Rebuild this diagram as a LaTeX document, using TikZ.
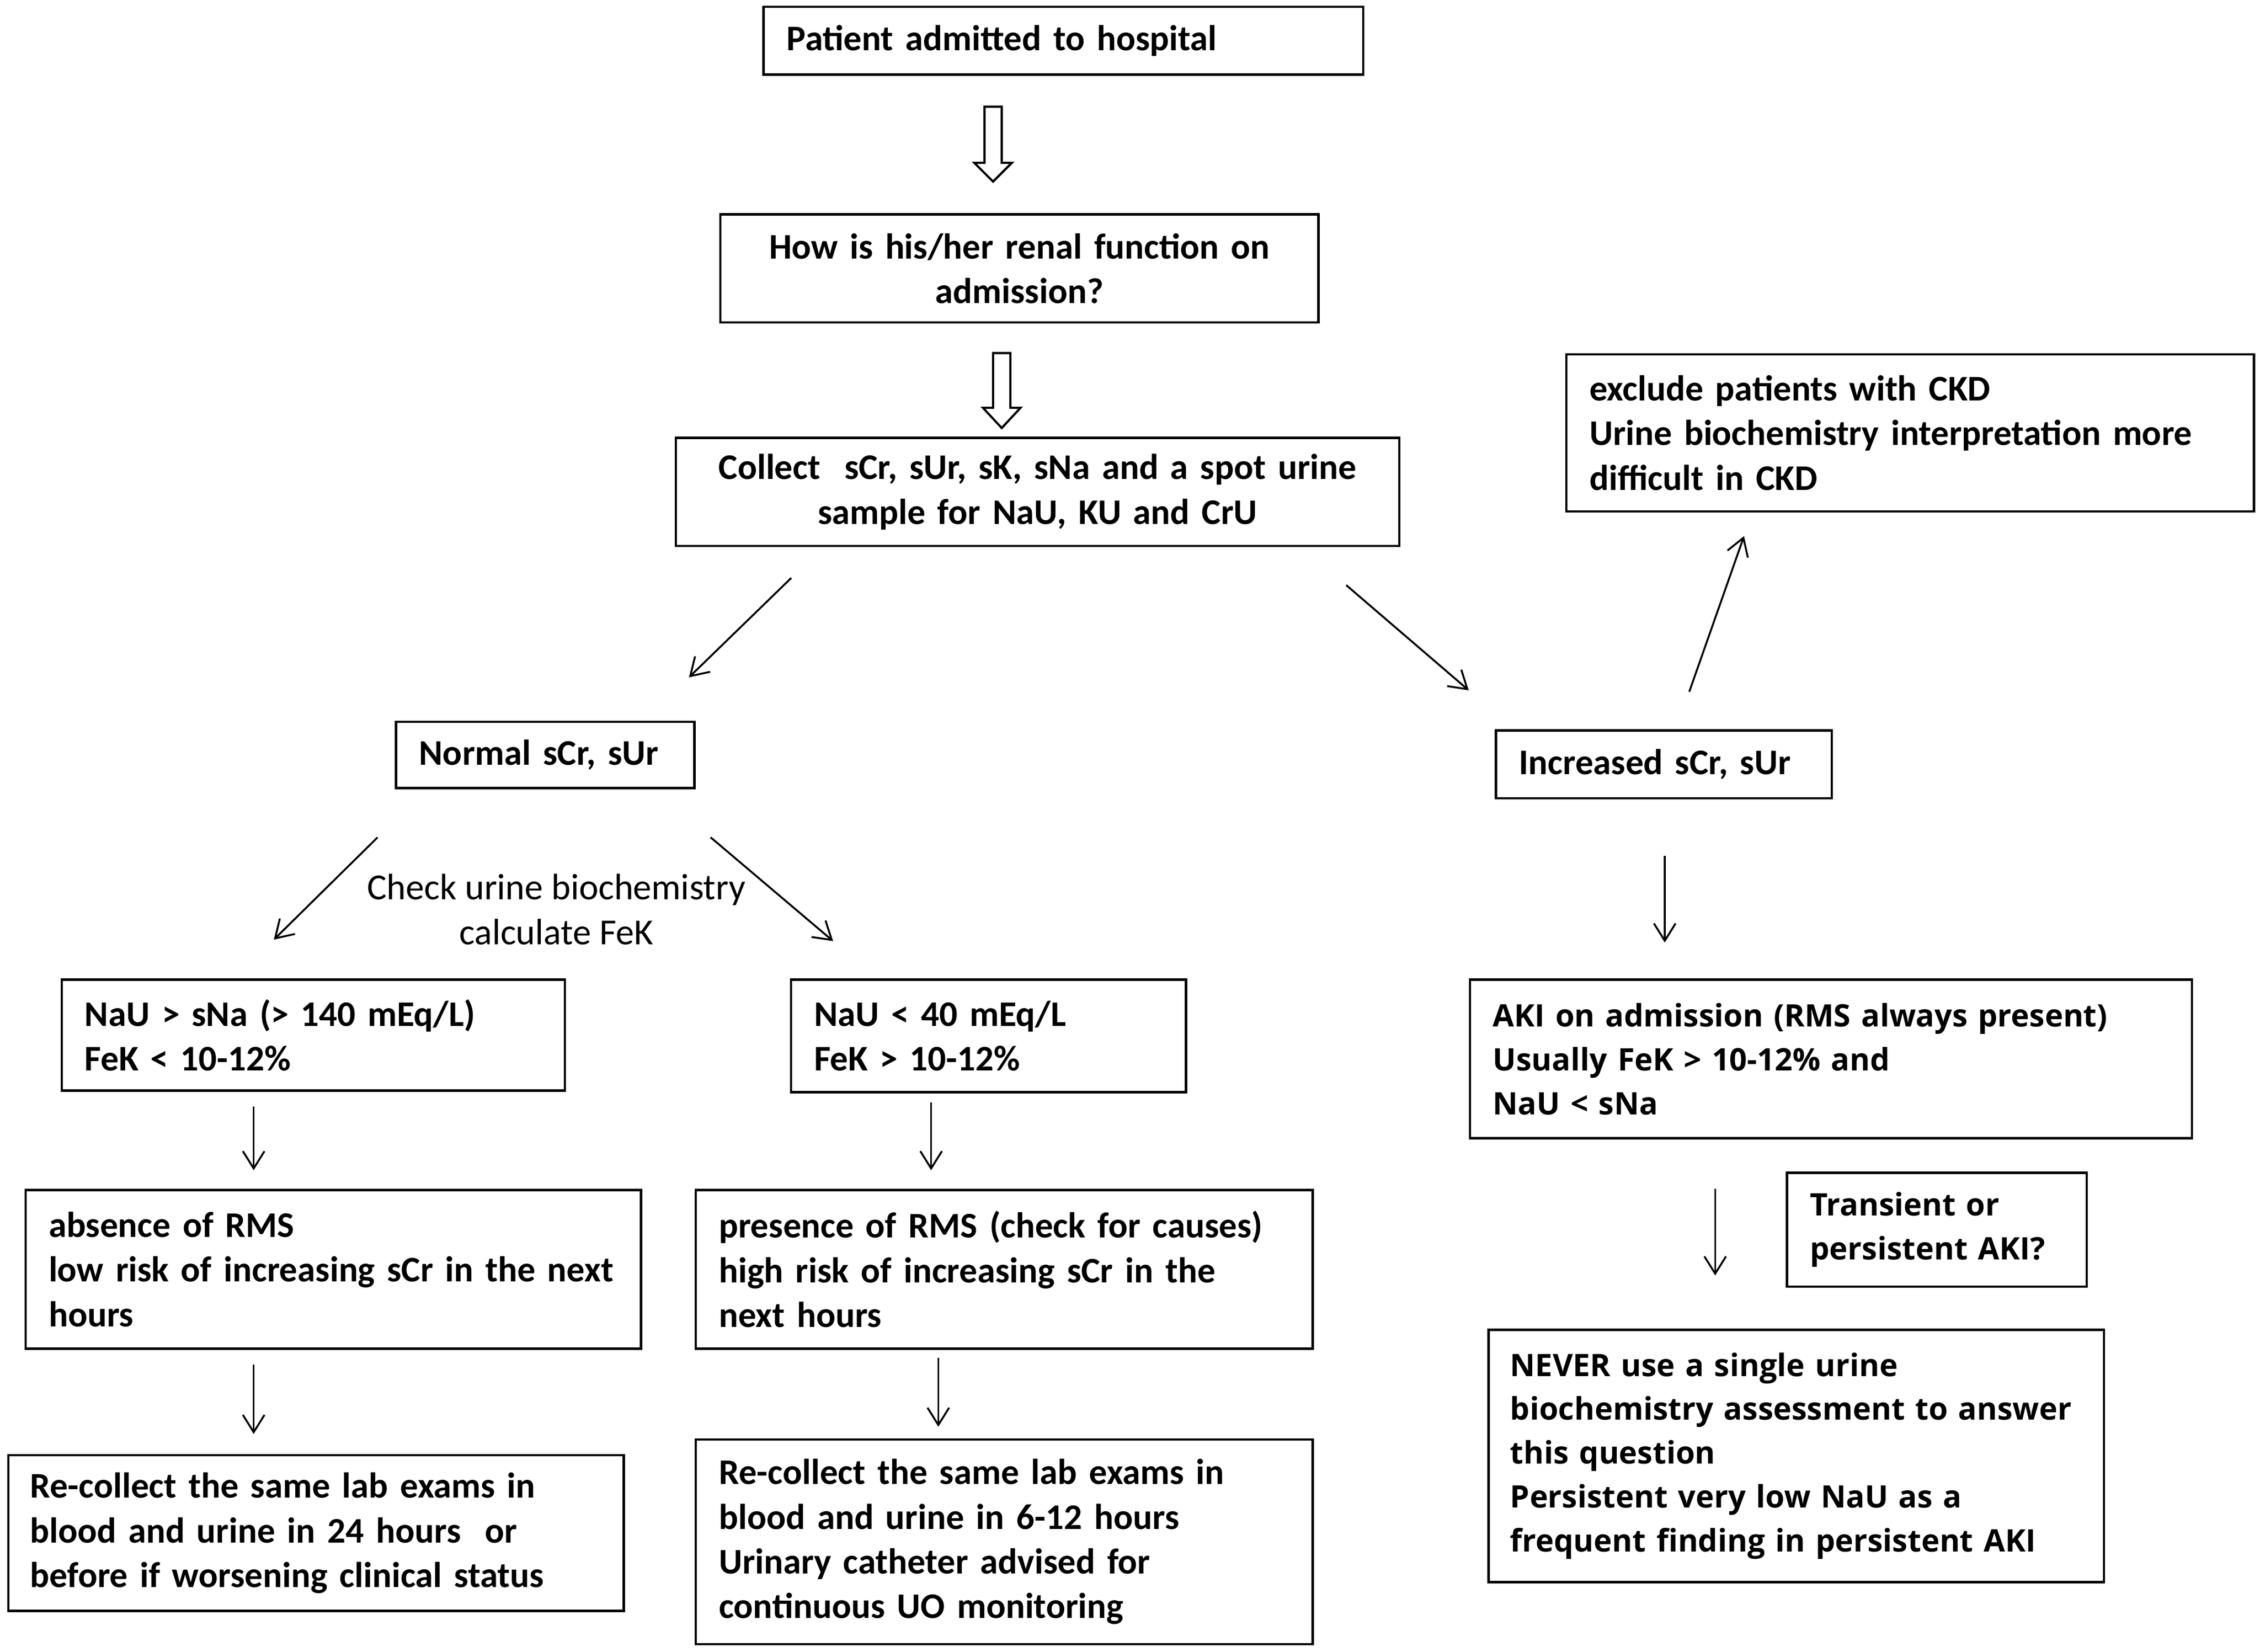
\documentclass[tikz,border=0pt]{standalone}
\usepackage{fontspec}
\setmainfont{Carlito}
\newfontfamily\osans{Open Sans}
\usetikzlibrary{arrows.meta,calc}
\begin{document}
\begin{tikzpicture}[x=1pt,y=-1pt,
  box/.style={draw, line width=1.6pt, anchor=north west, inner xsep=16pt, inner ysep=0pt, align=left,
    font={\fontsize{25}{31}\selectfont\bfseries\spaceskip=0.16em plus 0.05em minus 0.03em\relax}},
  cbox/.style={box, align=center},
  rbox/.style={box, font={\osans\fontsize{21.5}{30.5}\selectfont\bfseries}},
  conn/.style={line width=1.3pt, -{Straight Barb[length=12pt,width=15pt,line width=1.3pt]}},
  hollow/.style={draw, line width=1.5pt, fill=white, line join=miter},
  lbl/.style={align=center, font=\fontsize{25.5}{31}\selectfont}]
\useasboundingbox (0,0) rectangle (1568,1146);
\fill[white] (0,0) rectangle (1568,1146);

% boxes
\node[box, text width=384pt, minimum height=47pt] (B1) at (529,4) {\mbox{Patient admitted to hospital}};
\node[cbox, text width=383pt, minimum height=75pt] (B2) at (499,148) {How is his/her renal function on\\admission?};
\node[cbox, text width=470pt, minimum height=75pt] (B3) at (468,303) {\mbox{Collect\ \ sCr, sUr, sK, sNa and a spot urine}\\sample for NaU, KU and CrU};
\node[box, text width=175pt, minimum height=46pt] (B4) at (274,500) {\mbox{Normal sCr, sUr}};
\node[box, text width=201pt, minimum height=47pt] (B5) at (1037,506) {\mbox{Increased sCr, sUr}};
\node[box, text width=445pt, minimum height=109pt] (B6) at (1086,245) {\mbox{exclude patients with CKD}\\\mbox{Urine biochemistry interpretation more}\\\mbox{difficult in CKD}};
\node[box, text width=317pt, minimum height=77pt] (B7) at (42,679) {\mbox{NaU > sNa (> 140 mEq/L)}\\\mbox{FeK < 10-12\%}};
\node[box, text width=242pt, minimum height=78pt] (B8) at (548,679) {\mbox{NaU < 40 mEq/L}\\\mbox{FeK > 10-12\%}};
\node[box, text width=395pt, minimum height=110pt] (B9) at (17,825) {\mbox{absence of RMS}\\\mbox{low risk of increasing sCr in the next}\\\mbox{hours}};
\node[box, text width=396pt, minimum height=110pt] (B10) at (482,825) {\mbox{presence of RMS (check for causes)}\\\mbox{high risk of increasing sCr in the}\\\mbox{next hours}};
\node[box, text width=397pt, minimum height=108pt, inner xsep=15pt] (B11) at (5,1009) {\mbox{Re-collect the same lab exams in}\\\mbox{blood and urine in 24 hours\ \ or}\\\mbox{before if worsening clinical status}};
\node[box, text width=396pt, minimum height=142pt] (B12) at (482,998) {\mbox{Re-collect the same lab exams in}\\\mbox{blood and urine in 6-12 hours}\\\mbox{Urinary catheter advised for}\\\mbox{continuous UO monitoring}};
\node[rbox, text width=469pt, minimum height=110pt] (B13) at (1019,679) {\mbox{AKI on admission (RMS always present)}\\\mbox{Usually FeK > 10-12\% and}\\\mbox{NaU < sNa}};
\node[rbox, text width=176pt, minimum height=79pt] (B14) at (1239,813) {\mbox{Transient or}\\\mbox{persistent AKI?}};
\node[rbox, text width=397pt, minimum height=175pt, inner xsep=15pt] (B15) at (1032,922) {\mbox{NEVER use a single urine}\\\mbox{biochemistry assessment to answer}\\\mbox{this question}\\\mbox{Persistent very low NaU as a}\\\mbox{frequent finding in persistent AKI}};

% label
\node[lbl] (L1) at (386,631) {Check urine biochemistry\\calculate FeK};

% hollow arrows
\coordinate (h1a) at (689,74); \coordinate (h1b) at (689,126);
\draw[hollow] ($(h1a)+(-6,0)$) -- ($(h1a)+(6,0)$) -- ($(h1b)+(6,-13)$) -- ($(h1b)+(13,-13)$) -- (h1b)
  -- ($(h1b)+(-13,-13)$) -- ($(h1b)+(-6,-13)$) -- cycle;
\coordinate (h2a) at (695,245); \coordinate (h2b) at (695,297);
\draw[hollow] ($(h2a)+(-6,0)$) -- ($(h2a)+(6,0)$) -- ($(h2b)+(6,-14)$) -- ($(h2b)+(13,-14)$) -- (h2b)
  -- ($(h2b)+(-13,-14)$) -- ($(h2b)+(-6,-14)$) -- cycle;

% thin arrows
\coordinate (c1s) at (549,401); \coordinate (c1e) at (478,470);
\coordinate (c2s) at (934,406); \coordinate (c2e) at (1019,479);
\coordinate (c3s) at (1172,480); \coordinate (c3e) at (1210,372);
\coordinate (c4s) at (262,581); \coordinate (c4e) at (190,652);
\coordinate (c5s) at (493,581); \coordinate (c5e) at (578,653);
\coordinate (c6s) at (176,768); \coordinate (c6e) at (176,812);
\coordinate (c7s) at (646,765); \coordinate (c7e) at (646,812);
\coordinate (c8s) at (176,947); \coordinate (c8e) at (176,995);
\coordinate (c9s) at (651,942); \coordinate (c9e) at (651,990);
\coordinate (c10s) at (1155,594); \coordinate (c10e) at (1155,654);
\coordinate (c11s) at (1190,825); \coordinate (c11e) at (1190,885);
\foreach \i in {1,...,11} {\draw[conn] (c\i s) -- (c\i e);}
\end{tikzpicture}
\end{document}
